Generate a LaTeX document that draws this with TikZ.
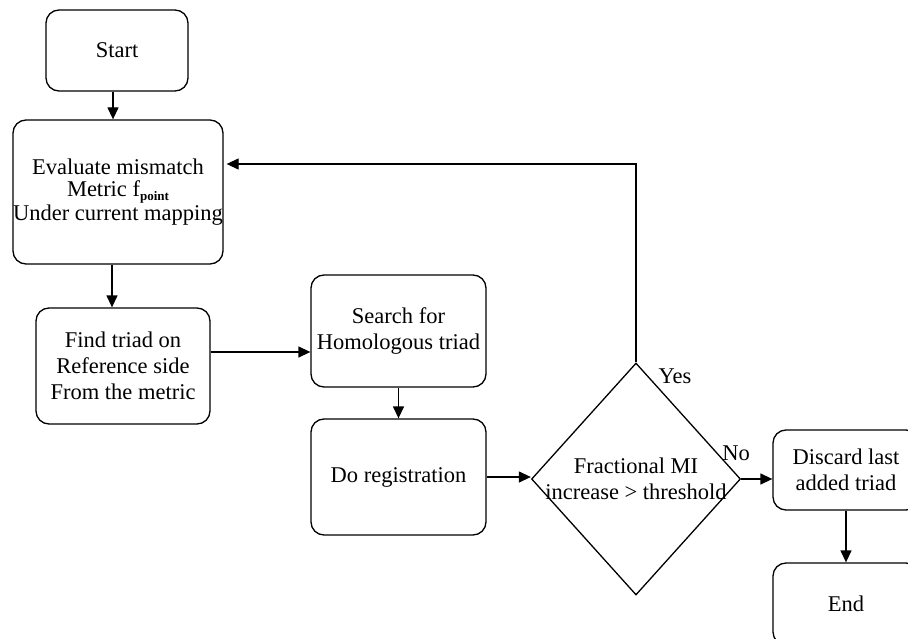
\documentclass[tikz,border=0pt]{standalone}
\usepackage{fontspec}
\setmainfont{Liberation Serif}
\usetikzlibrary{shapes.geometric,arrows.meta}
\begin{document}
\begin{tikzpicture}[x=1pt,y=-1pt,
  every node/.style={font=\fontsize{22.5}{26}\selectfont},
  boxnode/.style={draw, line width=1.3pt, rounded corners=13pt, align=center, inner sep=0pt},
  decnode/.style={draw, line width=1.3pt, diamond, inner sep=0pt, minimum width=209pt, minimum height=232pt},
  flow/.style={line width=1.3pt, -{Triangle[length=12pt,width=11pt]}},
  lbl/.style={inner sep=0pt}]
\useasboundingbox (0,0) rectangle (908,639);
\clip (0,0) rectangle (908,639);
\fill[white] (0,0) rectangle (908,639);

\node[boxnode, minimum width=142pt, minimum height=81pt] (start) at (117,50.5) {Start};
\node[boxnode, minimum width=210pt, minimum height=144pt, font=\fontsize{22.5}{22}\selectfont] (eval) at (118,192)
  {Evaluate mismatch\\ Metric f\raisebox{-4pt}{\fontsize{13}{13}\selectfont\bfseries point}\\ Under current mapping};
\node[boxnode, minimum width=174pt, minimum height=116pt] (find) at (123,366)
  {Find triad on\\ Reference side\\ From the metric};
\node[boxnode, minimum width=175pt, minimum height=112pt] (search) at (398.5,331)
  {Search for\\ Homologous triad};
\node[boxnode, minimum width=175pt, minimum height=116pt] (doreg) at (398.5,477)
  {Do registration};
\node[decnode, label={[align=center, font=\fontsize{22.5}{26}\selectfont]center:Fractional MI\\ increase > threshold}] (dec) at (636,479) {};
\node[boxnode, minimum width=146pt, minimum height=80pt] (disc) at (846,470)
  {Discard last\\ added triad};
\node[boxnode, minimum width=146pt, minimum height=82pt] (end) at (846,604) {End};

\node[lbl] (yes) at (675,376) {Yes};
\node[lbl] (no) at (736,453) {No};

\draw[flow] ([xshift=-4pt]start.south) -- ([xshift=-4pt]start.south |- eval.north);
\draw[flow] ([xshift=-6pt]eval.south) -- ([xshift=-6pt]eval.south |- find.north);
\draw[flow] ([yshift=14pt]find.east) -- ([yshift=14pt]find.east -| search.west);
\draw[flow] (search.south) -- (search.south |- doreg.north);
\draw[flow] (doreg.east) -- (doreg.east -| dec.west);
\coordinate (loop) at (636,164);
\draw[flow, shorten >=3pt] (dec.north) -- (loop) -- (loop -| eval.east);
\draw[flow] (dec.east) -- (dec.east -| disc.west);
\draw[flow] (disc.south) -- (end.north);
\end{tikzpicture}
\end{document}
